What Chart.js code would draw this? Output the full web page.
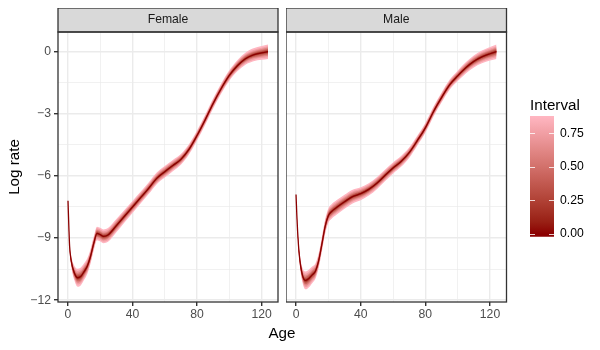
<!DOCTYPE html>
<html>
<head>
<meta charset="utf-8">
<script src="https://cdn.jsdelivr.net/npm/chart.js@4"></script>
<style>
  body { margin: 0; background: #fff; font-family: "Liberation Sans", Arial, sans-serif; }
  #wrap { position: relative; width: 600px; height: 350px; overflow: hidden; }
  .box { position: absolute; }
  #ytitle { position: absolute; left: -86px; top: 157px; width: 200px; line-height: 20px;
            text-align: center; font-size: 15.2px; color: #000; transform: rotate(-90deg); }
  #xtitle { position: absolute; left: 232px; top: 323px; width: 100px; line-height: 20px;
            text-align: center; font-size: 15.2px; color: #000; }
</style>
</head>
<body>
<div id="wrap">
  <div class="box" style="left:0;top:8px"><canvas id="female" width="280" height="342"></canvas></div>
  <div class="box" style="left:286px;top:8px"><canvas id="male" width="222" height="342"></canvas></div>
  <div class="box" style="left:530px;top:97px"><canvas id="legend" width="70" height="153"></canvas></div>
  <div id="ytitle">Log rate</div>
  <div id="xtitle">Age</div>
</div>
<script>
const ages = [0, 0.5, 1, 2, 4, 6, 8, 10, 12, 14, 16, 18, 20, 22, 25, 30, 35, 40, 45, 50,
  55, 60, 65, 70, 75, 80, 85, 90, 95, 100, 105, 110, 115, 120, 124];

const femaleRate = [-7.2, -8.4, -9.4, -10.1, -10.7, -10.92, -10.85, -10.62, -10.35, -9.88,
  -9.25, -8.78, -8.84, -8.92, -8.84, -8.4, -7.95, -7.5, -7.05, -6.6,
  -6.12, -5.8, -5.5, -5.2, -4.72, -4.05, -3.3, -2.5, -1.78, -1.15, -0.68, -0.34, -0.15, -0.06, 0.0];
const maleRate = [-6.9, -7.9, -8.7, -9.8, -10.8, -11.05, -10.95, -10.78, -10.6, -10.1,
  -9.3, -8.45, -7.92, -7.72, -7.53, -7.25, -7.0, -6.86, -6.65, -6.35,
  -5.98, -5.62, -5.3, -4.88, -4.3, -3.68, -2.9, -2.22, -1.6, -1.17, -0.78, -0.47, -0.25, -0.1, 0.0];

// half width of the widest (0.875) interval
const femaleSpread = [0.02, 0.06, 0.12, 0.24, 0.35, 0.43, 0.43, 0.4, 0.37, 0.35,
  0.33, 0.33, 0.33, 0.33, 0.33, 0.32, 0.3, 0.29, 0.28, 0.28,
  0.28, 0.28, 0.27, 0.26, 0.25, 0.24, 0.24, 0.24, 0.24, 0.25, 0.27, 0.29, 0.31, 0.33, 0.35];
const maleSpread = [0.02, 0.06, 0.12, 0.24, 0.35, 0.43, 0.43, 0.4, 0.37, 0.35,
  0.35, 0.35, 0.35, 0.35, 0.35, 0.34, 0.33, 0.31, 0.3, 0.29,
  0.28, 0.27, 0.26, 0.25, 0.24, 0.24, 0.24, 0.24, 0.24, 0.25, 0.27, 0.29, 0.31, 0.33, 0.35];

const intervals = [0.875, 0.75, 0.6, 0.45, 0.3, 0.15];
const intervalWidth = [1, 0.76, 0.56, 0.4, 0.25, 0.12];

const xTicks = [0, 20, 40, 60, 80, 100, 120];
const xLabels = [0, 40, 80, 120];
const yTicks = [-12, -10.5, -9, -7.5, -6, -4.5, -3, -1.5, 0];
const yLabels = [-12, -9, -6, -3, 0];
const legendTicks = [0, 0.25, 0.5, 0.75];

const LOW = '#8B0000', HIGH = '#FFB6C1';
const legendMax = 0.875;
const FONT = '"Liberation Sans", Arial, sans-serif';

// colour ramp in CIELAB, like scale_fill_gradient
function toLab(hex) {
  let c = [1, 3, 5].map(i => parseInt(hex.substr(i, 2), 16) / 255)
    .map(v => v <= 0.04045 ? v / 12.92 : Math.pow((v + 0.055) / 1.055, 2.4));
  let X = (c[0] * 0.4124 + c[1] * 0.3576 + c[2] * 0.1805) / 0.95047;
  let Y = (c[0] * 0.2126 + c[1] * 0.7152 + c[2] * 0.0722);
  let Z = (c[0] * 0.0193 + c[1] * 0.1192 + c[2] * 0.9505) / 1.08883;
  let f = t => t > 0.008856 ? Math.cbrt(t) : 7.787 * t + 16 / 116;
  return [116 * f(Y) - 16, 500 * (f(X) - f(Y)), 200 * (f(Y) - f(Z))];
}
function fromLab(L, a, b) {
  let fy = (L + 16) / 116, fx = fy + a / 500, fz = fy - b / 200;
  let g = t => t * t * t > 0.008856 ? t * t * t : (t - 16 / 116) / 7.787;
  let X = g(fx) * 0.95047, Y = g(fy), Z = g(fz) * 1.08883;
  let r = X * 3.2406 + Y * -1.5372 + Z * -0.4986;
  let gg = X * -0.9689 + Y * 1.8758 + Z * 0.0415;
  let bb = X * 0.0557 + Y * -0.2040 + Z * 1.0570;
  let s = v => {
    v = v <= 0.0031308 ? 12.92 * v : 1.055 * Math.pow(v, 1 / 2.4) - 0.055;
    return Math.round(Math.min(1, Math.max(0, v)) * 255);
  };
  return 'rgb(' + s(r) + ',' + s(gg) + ',' + s(bb) + ')';
}
const labLow = toLab(LOW), labHigh = toLab(HIGH);
function ramp(v) {
  let t = Math.min(1, Math.max(0, v / legendMax));
  return fromLab(...labLow.map((l, i) => l + (labHigh[i] - l) * t));
}

function buildDatasets(rate, spread) {
  let sets = [];
  intervals.forEach((lev, k) => {
    let lo = ages.map((a, i) => ({ x: a, y: rate[i] - spread[i] * intervalWidth[k] }));
    let hi = ages.map((a, i) => ({ x: a, y: rate[i] + spread[i] * intervalWidth[k] }));
    let loIndex = sets.length;
    sets.push({ data: lo, order: 100 - k, fill: false, borderWidth: 0,
      borderColor: 'rgba(0,0,0,0)', pointRadius: 0, cubicInterpolationMode: 'monotone' });
    sets.push({ data: hi, order: 100 - k, fill: loIndex, backgroundColor: ramp(lev), borderWidth: 0,
      borderColor: 'rgba(0,0,0,0)', pointRadius: 0, cubicInterpolationMode: 'monotone' });
  });
  sets.push({ data: ages.map((a, i) => ({ x: a, y: rate[i] })), order: 0, fill: false,
    borderColor: LOW, borderWidth: 1.3, pointRadius: 0, cubicInterpolationMode: 'monotone' });
  return sets;
}

const stripPlugin = {
  id: 'strip',
  afterDraw(chart, args, opts) {
    const { ctx, chartArea: a } = chart;
    ctx.save();
    ctx.fillStyle = '#D9D9D9';
    ctx.fillRect(a.left, a.top - 24, a.right - a.left, 24);
    ctx.strokeStyle = '#333333';
    ctx.lineWidth = 1.3;
    ctx.strokeRect(a.left, a.top - 24, a.right - a.left, 24);
    ctx.strokeRect(a.left, a.top, a.right - a.left, a.bottom - a.top);
    ctx.fillStyle = '#1A1A1A';
    ctx.font = '12.2px ' + FONT;
    ctx.textAlign = 'center';
    ctx.textBaseline = 'middle';
    ctx.fillText(opts.text, (a.left + a.right) / 2, a.top - 12);
    ctx.restore();
  }
};

function panelOptions(title, first) {
  const tickFont = { family: FONT, size: 12.2 };
  return {
    responsive: false,
    animation: false,
    events: [],
    layout: { padding: { top: 24, right: first ? 2 : 1.5, left: 0, bottom: 0 } },
    plugins: { legend: { display: false }, tooltip: { enabled: false }, strip: { text: title } },
    scales: {
      x: {
        type: 'linear', min: -6.2, max: 130.2,
        afterBuildTicks: s => { s.ticks = xTicks.map(v => ({ value: v })); },
        afterFit: s => { s.height = 48; },
        ticks: { font: tickFont, color: '#4D4D4D', padding: 1, maxRotation: 0, autoSkip: false,
          callback: v => xLabels.includes(v) ? String(v) : '' },
        grid: { color: '#EBEBEB', tickLength: 4,
          lineWidth: c => xLabels.includes(c.tick.value) ? 1.4 : 0.7,
          tickColor: c => xLabels.includes(c.tick.value) ? '#333333' : 'rgba(0,0,0,0)' },
        border: { display: false }
      },
      y: {
        type: 'linear', min: -12.09, max: 0.95,
        afterBuildTicks: s => { s.ticks = yTicks.map(v => ({ value: v })); },
        afterFit: s => { s.width = first ? 58 : 0; },
        ticks: { display: first, font: tickFont, color: '#4D4D4D', padding: 3, autoSkip: false,
          callback: v => yLabels.includes(v) ? String(v).replace('-', '\u2212') : '' },
        grid: { color: '#EBEBEB', tickLength: 4, drawTicks: first,
          lineWidth: c => yLabels.includes(c.tick.value) ? 1.4 : 0.7,
          tickColor: c => yLabels.includes(c.tick.value) ? '#333333' : 'rgba(0,0,0,0)' },
        border: { display: false }
      }
    }
  };
}

new Chart(document.getElementById('female'), {
  type: 'line',
  data: { datasets: buildDatasets(femaleRate, femaleSpread) },
  options: panelOptions('Female', true),
  plugins: [stripPlugin]
});
new Chart(document.getElementById('male'), {
  type: 'line',
  data: { datasets: buildDatasets(maleRate, maleSpread) },
  options: panelOptions('Male', false),
  plugins: [stripPlugin]
});

// colour bar legend
const barTicks = {
  id: 'barTicks',
  afterDatasetsDraw(chart) {
    const { ctx, chartArea: a, scales } = chart;
    ctx.save();
    ctx.strokeStyle = 'rgba(255,255,255,0.8)';
    ctx.lineWidth = 1;
    legendTicks.forEach(v => {
      const y = Math.round(scales.y.getPixelForValue(v)) + 0.5;
      ctx.beginPath();
      ctx.moveTo(a.left, y); ctx.lineTo(a.left + 5, y);
      ctx.moveTo(a.right - 5, y); ctx.lineTo(a.right, y);
      ctx.stroke();
    });
    ctx.restore();
  }
};

new Chart(document.getElementById('legend'), {
  type: 'bar',
  data: {
    labels: ['Interval'],
    datasets: [{
      data: [[-0.02, 0.88]],
      barPercentage: 1, categoryPercentage: 1, borderWidth: 0, borderSkipped: false,
      backgroundColor: c => {
        const a = c.chart.chartArea;
        if (!a) return LOW;
        const ys = c.chart.scales.y;
        const g = c.chart.ctx.createLinearGradient(0, ys.getPixelForValue(0), 0, ys.getPixelForValue(legendMax));
        for (let i = 0; i <= 10; i++) g.addColorStop(i / 10, ramp(legendMax * i / 10));
        return g;
      }
    }]
  },
  options: {
    responsive: false,
    animation: false,
    events: [],
    layout: { padding: { top: 0, right: 0, left: 0, bottom: 13.3 } },
    plugins: {
      legend: { display: false }, tooltip: { enabled: false },
      title: { display: true, text: 'Interval', align: 'start', color: '#000',
        font: { family: FONT, size: 15.2, weight: 'normal' },
        padding: { top: 0, bottom: 0.8 } }
    },
    scales: {
      x: { display: false },
      y: {
        position: 'right', min: -0.02, max: 0.88,
        afterBuildTicks: s => { s.ticks = legendTicks.map(v => ({ value: v })); },
        afterFit: s => { s.width = 46; },
        ticks: { color: '#000', padding: 6, font: { family: FONT, size: 12.2 },
          callback: v => v.toFixed(2) },
        grid: { display: false, drawTicks: false },
        border: { display: false }
      }
    }
  },
  plugins: [barTicks]
});
</script>
</body>
</html>
